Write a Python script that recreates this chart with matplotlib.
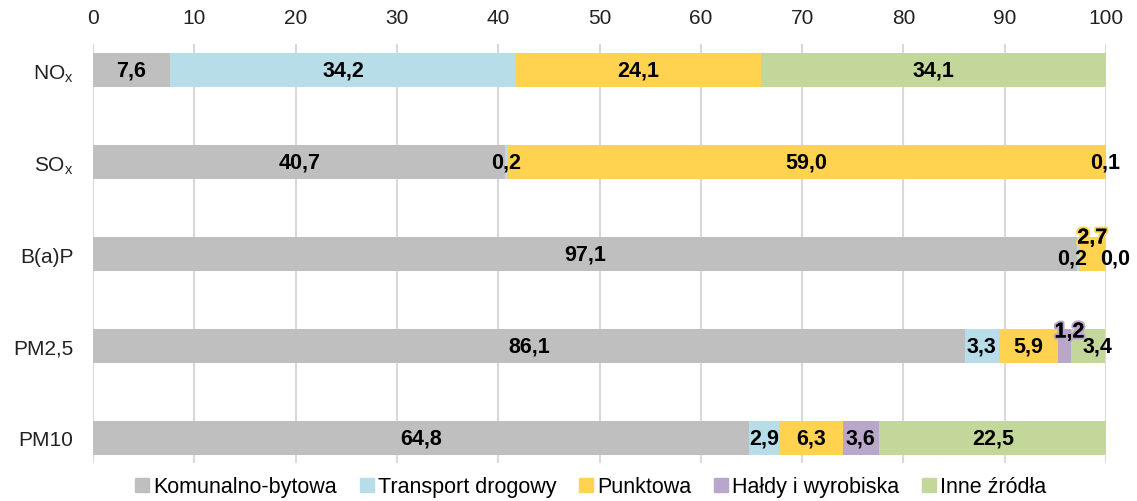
import matplotlib
matplotlib.use("Agg")
import matplotlib.pyplot as plt
import matplotlib.patheffects as pe
from matplotlib.lines import Line2D
import numpy as np

plt.rcParams['font.family'] = ['Liberation Sans', 'DejaVu Sans']

categories = ['NO$_\\mathregular{x}$', 'SO$_\\mathregular{x}$', 'B(a)P', 'PM2,5', 'PM10']
series = ['Komunalno-bytowa', 'Transport drogowy', 'Punktowa', 'Hałdy i wyrobiska', 'Inne źródła']
komunalno = [7.6, 40.7, 97.1, 86.1, 64.8]
transport = [34.2, 0.2, 0.2, 3.3, 2.9]
punktowa = [24.1, 59.0, 2.7, 5.9, 6.3]
haldy = [0.0, 0.0, 0.0, 1.2, 3.6]
inne = [34.1, 0.1, 0.0, 3.4, 22.5]
colors = ['#BFBFBF', '#B7DEE8', '#FFD34F', '#B8A7CB', '#C4D79B']
xticks = [0, 10, 20, 30, 40, 50, 60, 70, 80, 90, 100]

values = [komunalno, transport, punktowa, haldy, inne]

# label display tweaks: (category index, series index) -> offset in pixels (dx, dy up)
label_offsets = {(2, 1): (-6, -4), (2, 2): (0, 16), (2, 4): (9, -4),
                 (3, 3): (5, 14), (3, 4): (10, 0)}
glow_labels = {(2, 2), (3, 3)}
shown_zero = {(2, 4)}

fig = plt.figure(figsize=(11.37, 5.02), dpi=100)
ax = fig.add_axes([93/1137, 1-464/502, (1106-93)/1137, (464-45)/502])

y = np.arange(len(categories))
left = np.zeros(len(categories))
for si, (name, vals, col) in enumerate(zip(series, values, colors)):
    vals = np.array(vals)
    ax.barh(y, vals, left=left, height=0.36, color=col, label=name, zorder=2)
    for ci, v in enumerate(vals):
        if v == 0 and (ci, si) not in shown_zero:
            continue
        cx = left[ci] + v / 2
        if (ci, si) in shown_zero:
            cx = left[ci]
        dx, dy = label_offsets.get((ci, si), (0, 0))
        t = ax.annotate(f'{v:.1f}'.replace('.', ','), (cx, ci),
                        xytext=(dx * 0.72, dy * 0.72), textcoords='offset points',
                        ha='center', va='center', fontsize=15.5, fontweight='bold',
                        color='black', zorder=5)
        if (ci, si) in glow_labels:
            t.set_path_effects([pe.withStroke(linewidth=3, foreground=col), pe.Normal()])
    left = left + vals

ax.set_xlim(0, 100)
ax.set_ylim(4.272, -0.283)
ax.set_xticks(xticks)
ax.set_xticklabels([str(t) for t in xticks])
ax.xaxis.tick_top()
ax.tick_params(axis='x', length=0, pad=12, labelsize=15, colors='#222222')
ax.set_yticks(y)
ax.set_yticklabels(categories)
ax.tick_params(axis='y', length=0, pad=14, labelsize=15, colors='#222222')
ax.grid(axis='x', color='#D9D9D9', linewidth=1.5, zorder=0)
for s in ax.spines.values():
    s.set_visible(False)

handles = [Line2D([0], [0], marker='s', linestyle='none', markersize=10,
                  markerfacecolor=c, markeredgecolor=c) for c in colors]
fig.legend(handles, series, loc='center', bbox_to_anchor=(0.518, 0.028), ncol=5,
           frameon=False, fontsize=15.5, handletextpad=0.0, columnspacing=0.9,
           handlelength=1.0)

fig.savefig('out.png', dpi=100)
